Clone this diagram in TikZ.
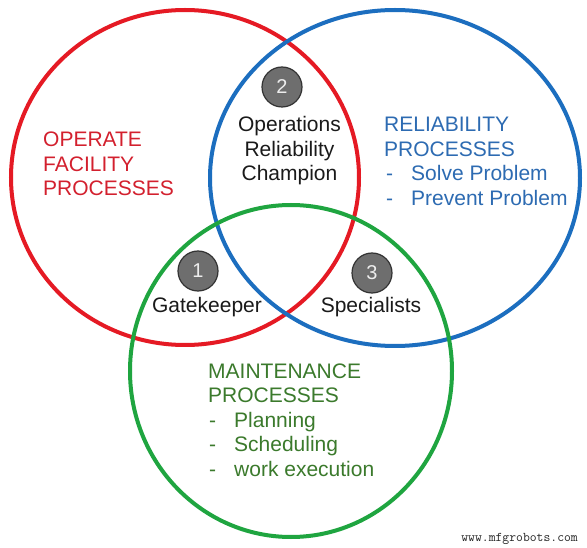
\documentclass[tikz,border=0pt]{standalone}
\usepackage{fontspec}
\setmainfont{Liberation Sans}
\definecolor{cred}{HTML}{E51A24}
\definecolor{cblue}{HTML}{1C6EBF}
\definecolor{cgreen}{HTML}{1FA540}
\definecolor{tred}{HTML}{D3202E}
\definecolor{tblue}{HTML}{2D6BB2}
\definecolor{tgreen}{HTML}{3B7A2C}
\definecolor{tblack}{HTML}{1A1A1A}
\definecolor{badge}{HTML}{6E6E6E}
\begin{document}
\begin{tikzpicture}[x=1pt,y=-1pt,
  ring/.style={line width=4pt},
  lbl/.style={inner sep=0pt,font=\fontsize{21}{24}\selectfont},
  badgestyle/.style={circle,fill=badge,draw=black!80,line width=1.2pt,minimum size=40pt,inner sep=0pt,text=white!93!black,font=\fontsize{20}{24}\selectfont}]
\useasboundingbox (0,0) rectangle (587,548);
\fill[white] (0,0) rectangle (587,548);
% circles
\draw[ring,cred] (185,177.5) ellipse [x radius=174, y radius=167.5];
\draw[ring,cblue] (395,178) ellipse [x radius=185, y radius=168];
\draw[ring,cgreen] (291,371) ellipse [x radius=161, y radius=166];
% badges
\node[badgestyle] (b1) at (198,271) {1};
\node[badgestyle] (b2) at (282,87) {2};
\node[badgestyle] (b3) at (372,273) {3};
% red text
\node[lbl,text=tred,anchor=base west] (r1) at (43,147) {OPERATE};
\node[lbl,text=tred,anchor=base west] (r2) at (43,171.5) {FACILITY};
\node[lbl,text=tred,anchor=base west] (r3) at (43,196) {PROCESSES};
% center text
\node[lbl,text=tblack,anchor=base] (c1) at (289.5,132) {Operations};
\node[lbl,text=tblack,anchor=base] (c2) at (289.5,156.5) {Reliability};
\node[lbl,text=tblack,anchor=base] (c3) at (289.5,181) {Champion};
% blue text
\node[lbl,text=tblue,anchor=base west] (u1) at (384,132) {RELIABILITY};
\node[lbl,text=tblue,anchor=base west] (u2) at (384,156.5) {PROCESSES};
\node[lbl,text=tblue,anchor=base west] (u3d) at (386,181) {-};
\node[lbl,text=tblue,anchor=base west] (u3) at (411,181) {Solve Problem};
\node[lbl,text=tblue,anchor=base west] (u4d) at (386,205.5) {-};
\node[lbl,text=tblue,anchor=base west] (u4) at (411,205.5) {Prevent Problem};
% green text
\node[lbl,text=tgreen,anchor=base west] (g1) at (208,378) {MAINTENANCE};
\node[lbl,text=tgreen,anchor=base west] (g2) at (208,402.5) {PROCESSES};
\node[lbl,text=tgreen,anchor=base west] (g3d) at (209,427) {-};
\node[lbl,text=tgreen,anchor=base west] (g3) at (234,427) {Planning};
\node[lbl,text=tgreen,anchor=base west] (g4d) at (209,451.5) {-};
\node[lbl,text=tgreen,anchor=base west] (g4) at (234,451.5) {Scheduling};
\node[lbl,text=tgreen,anchor=base west] (g5d) at (209,476) {-};
\node[lbl,text=tgreen,anchor=base west] (g5) at (234,476) {work execution};
% badge captions
\node[lbl,text=tblack,anchor=base] (k1) at (207,313) {Gatekeeper};
\node[lbl,text=tblack,anchor=base] (k3) at (371,313) {Specialists};
% watermark
\node[inner sep=0pt,anchor=base east,font=\ttfamily\fontsize{13.3}{14}\selectfont,text=black!85] (wm) at (578,541) {www.mfgrobots.com};
\end{tikzpicture}
\end{document}
